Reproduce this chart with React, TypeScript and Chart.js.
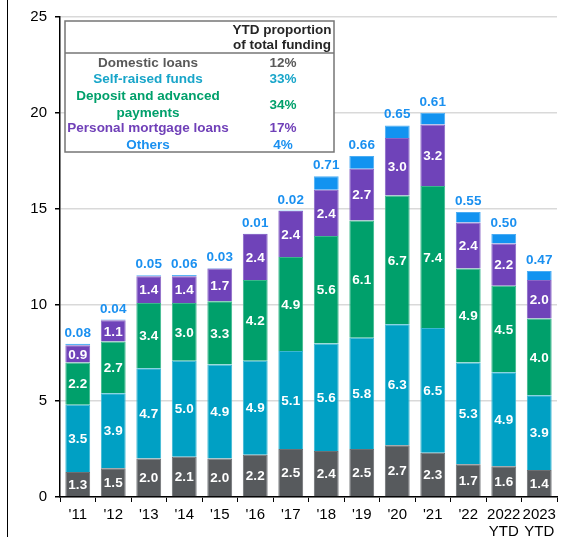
import React, { useEffect, useRef } from "react";
import { Chart, registerables } from "chart.js";

Chart.register(...registerables);

// Funding sources by year (trillion, stacked)
const categories: (string | string[])[] = [
  "'11", "'12", "'13", "'14", "'15", "'16", "'17", "'18", "'19", "'20", "'21", "'22",
  ["2022", "YTD"], ["2023", "YTD"],
];
const domesticLoans = [1.3, 1.5, 2.0, 2.1, 2.0, 2.2, 2.5, 2.4, 2.5, 2.7, 2.3, 1.7, 1.6, 1.4];
const selfRaisedFunds = [3.5, 3.9, 4.7, 5.0, 4.9, 4.9, 5.1, 5.6, 5.8, 6.3, 6.5, 5.3, 4.9, 3.9];
const depositAndAdvanced = [2.2, 2.7, 3.4, 3.0, 3.3, 4.2, 4.9, 5.6, 6.1, 6.7, 7.4, 4.9, 4.5, 4.0];
const personalMortgage = [0.9, 1.1, 1.4, 1.4, 1.7, 2.4, 2.4, 2.4, 2.7, 3.0, 3.2, 2.4, 2.2, 2.0];
const others = [0.08, 0.04, 0.05, 0.06, 0.03, 0.01, 0.02, 0.71, 0.66, 0.65, 0.61, 0.55, 0.5, 0.47];

// YTD share table
const tableHeader = ["YTD proportion", "of total funding"];
const tableNames: string[][] = [
  ["Domestic loans"],
  ["Self-raised funds"],
  ["Deposit and advanced", "payments"],
  ["Personal mortgage loans"],
  ["Others"],
];
const tableShares = ["12%", "33%", "34%", "17%", "4%"];

const FONT = "'Liberation Sans', Arial, Helvetica, sans-serif";
const barColors = ["#575a5d", "#00a0c4", "#00a06b", "#6f43b9", "#1293f0"];
const borderColors = ["#6d7073", "#3bb6d2", "#3ab78c", "#8a67c6", "#4aacf3"];
const textColors = ["#595959", "#18a5c9", "#00a06b", "#7040b8", "#1a90f0"];

const labelPlugin = {
  id: "segmentLabels",
  afterDatasetsDraw(chart: any) {
    const ctx = chart.ctx;
    ctx.save();
    ctx.textAlign = "center";
    ctx.font = `bold 13.5px ${FONT}`;
    chart.data.datasets.forEach((ds: any, i: number) => {
      const meta = chart.getDatasetMeta(i);
      meta.data.forEach((bar: any, j: number) => {
        const { x, y, base } = bar.getProps(["x", "y", "base"], true);
        const v = ds.data[j];
        if (i < 4) {
          ctx.fillStyle = "#ffffff";
          ctx.textBaseline = "middle";
          ctx.fillText(v.toFixed(1), x, (y + base) / 2 + 1);
        } else {
          ctx.fillStyle = textColors[4];
          ctx.textBaseline = "bottom";
          ctx.fillText(v.toFixed(2), x, y - 4);
        }
      });
    });
    ctx.restore();
  },
};

const tablePlugin = {
  id: "shareTable",
  afterDraw(chart: any) {
    const ctx = chart.ctx;
    ctx.save();
    // frame line on the left edge
    ctx.fillStyle = "#000000";
    ctx.fillRect(7, 0, 1, chart.height);

    const x0 = 65, y0 = 21, x1 = 334, y1 = 152, sep = 53;
    ctx.fillStyle = "#ffffff";
    ctx.fillRect(x0, y0, x1 - x0, y1 - y0);
    ctx.strokeStyle = "#767676";
    ctx.lineWidth = 1.5;
    ctx.strokeRect(x0, y0, x1 - x0, y1 - y0);
    ctx.beginPath();
    ctx.moveTo(x0, sep);
    ctx.lineTo(x1, sep);
    ctx.stroke();

    ctx.font = `bold 13.5px ${FONT}`;
    ctx.textAlign = "center";
    ctx.textBaseline = "middle";
    ctx.fillStyle = "#262626";
    ctx.fillText(tableHeader[0], 282, 30);
    ctx.fillText(tableHeader[1], 282, 45);

    const rowY = [63, 79, 105, 128, 145];
    tableNames.forEach((lines, i) => {
      ctx.fillStyle = textColors[i];
      const lh = 17;
      const start = rowY[i] - ((lines.length - 1) * lh) / 2;
      lines.forEach((t, k) => ctx.fillText(t, 148, start + k * lh));
      ctx.fillText(tableShares[i], 283, rowY[i]);
    });
    ctx.restore();
  },
};

export default function App() {
  const ref = useRef<HTMLCanvasElement | null>(null);

  useEffect(() => {
    if (!ref.current) return;
    const series = [domesticLoans, selfRaisedFunds, depositAndAdvanced, personalMortgage, others];
    const names = ["Domestic loans", "Self-raised funds", "Deposit and advanced payments", "Personal mortgage loans", "Others"];
    const chart = new Chart(ref.current, {
      type: "bar",
      data: {
        labels: categories as any,
        datasets: series.map((d, i) => ({
          label: names[i],
          data: d,
          backgroundColor: barColors[i],
          borderColor: borderColors[i],
          borderWidth: 1,
          barPercentage: 0.7,
          categoryPercentage: 1,
        })),
      },
      options: {
        responsive: false,
        animation: false,
        layout: { padding: { top: 12, right: 8, left: 0, bottom: 0 } },
        plugins: {
          legend: { display: false },
          tooltip: { enabled: false },
        },
        scales: {
          x: {
            stacked: true,
            afterFit: (s: any) => { s.height = 40; },
            grid: {
              offset: true,
              drawOnChartArea: false,
              drawTicks: true,
              tickLength: 5,
              tickColor: "#000000",
            },
            border: { color: "#000000", width: 1.5 },
            ticks: {
              color: "#000000",
              font: { family: FONT, size: 15, lineHeight: 1.17 },
              padding: 4,
              maxRotation: 0,
              autoSkip: false,
            },
          },
          y: {
            stacked: true,
            min: 0,
            max: 25,
            afterFit: (s: any) => { s.width = 60; },
            grid: {
              color: "#d9d9d9",
              lineWidth: 1.5,
              tickLength: 5,
              tickColor: "#000000",
            },
            border: { color: "#000000", width: 1.5 },
            ticks: {
              stepSize: 5,
              color: "#000000",
              font: { family: FONT, size: 15 },
              padding: 8,
            },
          },
        },
      },
      plugins: [labelPlugin, tablePlugin],
    });
    return () => chart.destroy();
  }, []);

  return (
    <div style={{ position: "fixed", left: 0, top: 0, width: 565, height: 537, background: "#ffffff" }}>
      <canvas ref={ref} width={565} height={537} />
    </div>
  );
}
